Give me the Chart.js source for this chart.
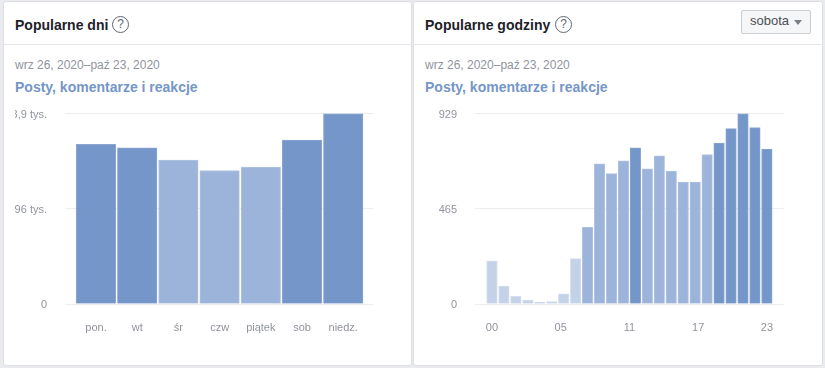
<!DOCTYPE html>
<html lang="pl">
<head>
<meta charset="utf-8">
<title>Popularne dni i godziny</title>
<script src="https://cdn.jsdelivr.net/npm/chart.js@4"></script>
<style>
html, body { margin: 0; padding: 0; }
body { width: 825px; height: 368px; background: #e9ebee; position: relative; overflow: hidden;
  font-family: "Liberation Sans", Arial, sans-serif; }
.card { position: absolute; top: 1px; height: 363px; background: #fff; border: 1px solid #dddfe2; border-radius: 3px; box-sizing: content-box; }
.head { position: absolute; left: 0; right: 0; top: 42px; height: 1px; background: #e5e6e9; }
.title { position: absolute; top: 15px; font-size: 14px; line-height: 16px; font-weight: bold; color: #1d2129; white-space: nowrap; }
.help { position: absolute; top: 14px; width: 15px; height: 15px; border: 1px solid #606770; border-radius: 50%;
  font-size: 12px; line-height: 15px; text-align: center; color: #606770; }
.range { position: absolute; top: 55px; font-size: 12px; line-height: 16px; color: #90949c; white-space: nowrap; }
.metric { position: absolute; top: 77px; font-size: 14px; line-height: 16px; font-weight: bold; color: #7596c8; white-space: nowrap; }
.btn { position: absolute; left: 327px; top: 8px; width: 68px; height: 22px; background: #f5f6f7; border: 1px solid #ccd0d5; border-radius: 2px;
  font-size: 13px; line-height: 20px; color: #4b4f56; }
.btn span { position: absolute; left: 8px; top: 0; }
.btn i { position: absolute; left: 52px; top: 9px; width: 0; height: 0; border-left: 4px solid transparent; border-right: 4px solid transparent; border-top: 5px solid #7d8187; }
.plot { position: absolute; top: 99px; width: 370px; height: 250px; }
</style>
</head>
<body>
<div class="card" style="left:3px;width:407px">
  <div class="title" style="left:11px">Popularne dni</div>
  <div class="help" style="left:108px">?</div>
  <div class="head"></div>
  <div class="range" style="left:11px">wrz 26, 2020–paź 23, 2020</div>
  <div class="metric" style="left:11px">Posty, komentarze i reakcje</div>
  <div class="plot" style="left:11px"><canvas id="chart_days" width="370" height="250"></canvas></div>
</div>
<div class="card" style="left:413px;width:408px">
  <div class="title" style="left:11px">Popularne godziny</div>
  <div class="help" style="left:141px">?</div>
  <div class="btn"><span>sobota</span><i></i></div>
  <div class="head"></div>
  <div class="range" style="left:11px">wrz 26, 2020–paź 23, 2020</div>
  <div class="metric" style="left:11px">Posty, komentarze i reakcje</div>
  <div class="plot" style="left:11px"><canvas id="chart_hours" width="370" height="250"></canvas></div>
</div>
<script>
const dayLabels = ['pon.', 'wt', 'śr', 'czw', 'piątek', 'sob', 'niedz.'];
const dayValues = [162500, 159000, 146400, 135900, 139300, 166900, 193900];
const dayTickValues = [0, 96950, 193900];
const dayTickLabels = ['0', '96 tys.', '193,9 tys.'];

const hourValues = [211, 87, 37, 19, 8, 12, 50, 221, 374, 683, 636, 698, 762, 659, 723, 648, 594, 594, 729, 785, 855, 929, 860, 755];
const hourTickPositions = [0, 5.75, 11.5, 17.25, 23];
const hourTickLabels = ['00', '05', '11', '17', '23'];
const hourTickValues = [0, 465, 929];
const hourTickTexts = ['0', '465', '929'];

function barColor(value, max) {
    if (value >= 0.8 * max) return '#7596c8';
    if (value >= 0.4 * max) return '#9cb4d9';
    return '#c4d2e7';
}

function edgeColor(value, max) {
    if (value >= 0.8 * max) return '#8aa6d1';
    if (value >= 0.4 * max) return '#b1c3e1';
    return '#d4deee';
}

function makeChart(id, values, cfg) {
    const max = Math.max(...values);
    return new Chart(document.getElementById(id), {
        type: 'bar',
        data: {
            datasets: [{
                data: values.map((v, i) => ({ x: i, y: v })),
                backgroundColor: values.map(v => barColor(v, max)),
                borderColor: values.map(v => edgeColor(v, max)),
                borderWidth: { top: 1, left: 1, right: 1, bottom: 0 },
                barThickness: cfg.barThickness
            }]
        },
        options: {
            animation: false,
            responsive: false,
            layout: { padding: { top: 12.5, right: 11.5, left: 0, bottom: 0 } },
            plugins: { legend: { display: false }, tooltip: { enabled: false } },
            scales: {
                x: {
                    type: 'linear',
                    offset: false,
                    min: cfg.xMin,
                    max: cfg.xMax,
                    grid: { display: false },
                    border: { display: false },
                    afterBuildTicks: scale => { scale.ticks = cfg.xTicks.map(value => ({ value })); },
                    afterFit: scale => { scale.height = 47; },
                    ticks: {
                        autoSkip: false,
                        maxRotation: 0,
                        padding: 9,
                        color: '#90949c',
                        font: { family: '"Liberation Sans"', size: 11 },
                        callback: (value, index) => cfg.xLabels[index]
                    }
                },
                y: {
                    type: 'linear',
                    min: 0,
                    max: max,
                    border: { display: false },
                    grid: { color: '#ebedf0', drawTicks: false },
                    afterBuildTicks: scale => { scale.ticks = cfg.yTicks.map(value => ({ value })); },
                    afterFit: scale => { scale.width = 50; scale.paddingTop = 0; scale.paddingBottom = 0; },
                    ticks: {
                        padding: 18,
                        labelOffset: 1,
                        color: '#90949c',
                        font: { family: '"Liberation Sans"', size: 11 },
                        callback: (value, index) => cfg.yLabels[index]
                    }
                }
            }
        }
    });
}

const charts = [
makeChart('chart_days', dayValues, {
    barThickness: 39.5,
    xMin: -0.752,
    xMax: 6.735,
    xTicks: dayLabels.map((d, i) => i),
    xLabels: dayLabels,
    yTicks: dayTickValues,
    yLabels: dayTickLabels
}),
makeChart('chart_hours', hourValues, {
    barThickness: 10.5,
    xMin: -1.42,
    xMax: 24.39,
    xTicks: hourTickPositions,
    xLabels: hourTickLabels,
    yTicks: hourTickValues,
    yLabels: hourTickTexts
})];
</script>
</body>
</html>
